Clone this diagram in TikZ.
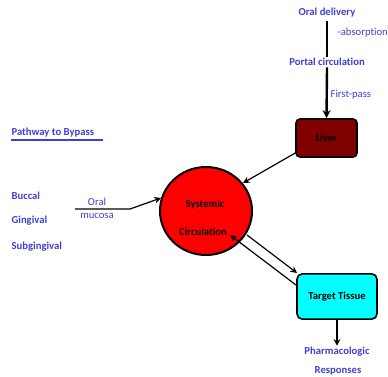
\documentclass[tikz,border=0pt]{standalone}
\usepackage{fontspec}
\setmainfont{Carlito}[Ligatures=NoCommon]
\usetikzlibrary{arrows.meta,shapes.geometric}
\definecolor{txtblue}{RGB}{64,64,208}
\definecolor{liverred}{RGB}{128,0,0}
\definecolor{tcyan}{RGB}{0,255,255}
\definecolor{sred}{RGB}{255,0,0}
\begin{document}
\begin{tikzpicture}[x=0.75pt,y=-0.75pt,
  lbl/.style={font=\fontsize{8}{9}\selectfont\bfseries, text=txtblue, inner sep=1pt},
  lbllight/.style={font=\fontsize{8}{9}\selectfont, text=txtblue, inner sep=1pt},
  boxtxt/.style={font=\fontsize{8}{9}\selectfont\bfseries, text=black},
  conn/.style={draw=black, line width=0.9pt},
  arr/.style={conn, -{Stealth[length=5pt,width=5pt]}},
  bigarr/.style={draw=black, line width=1.8pt, -{Stealth[length=6pt,width=6pt]}}
]
\useasboundingbox (0,0) rectangle (388,377);
% top chain
\node[lbl] (oral) at (327,13) {Oral delivery};
\node[lbllight, anchor=west] (abs) at (336,33) {-absorption};
\node[lbl] (portal) at (327,62) {Portal circulation};
\node[lbllight, anchor=west] (fp) at (329,95) {First-pass};
\node[boxtxt, draw=black, line width=1.2pt, rounded corners=3pt, fill=liverred,
  minimum width=45.75pt, minimum height=28.5pt, inner sep=0pt] (liver) at (326.5,138) {Liver};
\draw[conn] (oral.south) ++(0,2) coordinate (od1) (od1) -- (portal.north);
\draw[bigarr] (portal.south) -- (liver.north);
% systemic circulation
\node[draw=black, line width=1.5pt, fill=sred, ellipse, minimum width=69pt, minimum height=66pt,
  inner sep=0pt] (sys) at (206,211) {};
\node[boxtxt] (systxt) at (205,205) {Systemic};
\node[boxtxt] (circtxt) at (203,232) {Circulation};
\coordinate (liverout) at (297,152);
\coordinate (sysin) at (243,183);
\draw[arr] (liverout) -- (sysin);
% left side
\node[lbl, anchor=west] (bypass) at (10,133) {Pathway to Bypass};
\draw[txtblue, line width=0.8pt] (11,140) -- (103,140);
\node[lbl, anchor=west] (buccal) at (10,196) {Buccal};
\node[lbl, anchor=west] (gingival) at (10,221) {Gingival};
\node[lbl, anchor=west] (subg) at (10,247) {Subgingival};
\node[lbllight] (oraltxt) at (97,202) {Oral};
\node[lbllight] (mucosa) at (97,216) {mucosa};
\coordinate (muc0) at (75,209);
\coordinate (muc1) at (130,209);
\coordinate (sysleft) at (161,198);
\draw[arr] (muc0) -- (muc1) -- (sysleft);
% target tissue
\node[boxtxt, draw=black, line width=1.2pt, rounded corners=4pt, fill=tcyan,
  minimum width=60pt, minimum height=34pt, inner sep=0pt] (target) at (337,296.5) {Target Tissue};
\coordinate (s1) at (247,235);
\coordinate (t1) at (297,273);
\coordinate (t2) at (296,285);
\coordinate (s2) at (230,235);
\draw[arr] (s1) -- (t1);
\draw[arr] (t2) -- (s2);
% responses
\node[lbl] (pharma) at (337,352) {Pharmacologic};
\node[lbl] (resp) at (338,371) {Responses};
\draw[draw=black, line width=1.5pt, -{Stealth[length=5pt,width=5pt]}] (target.south) -- (pharma.north);
\end{tikzpicture}
\end{document}
